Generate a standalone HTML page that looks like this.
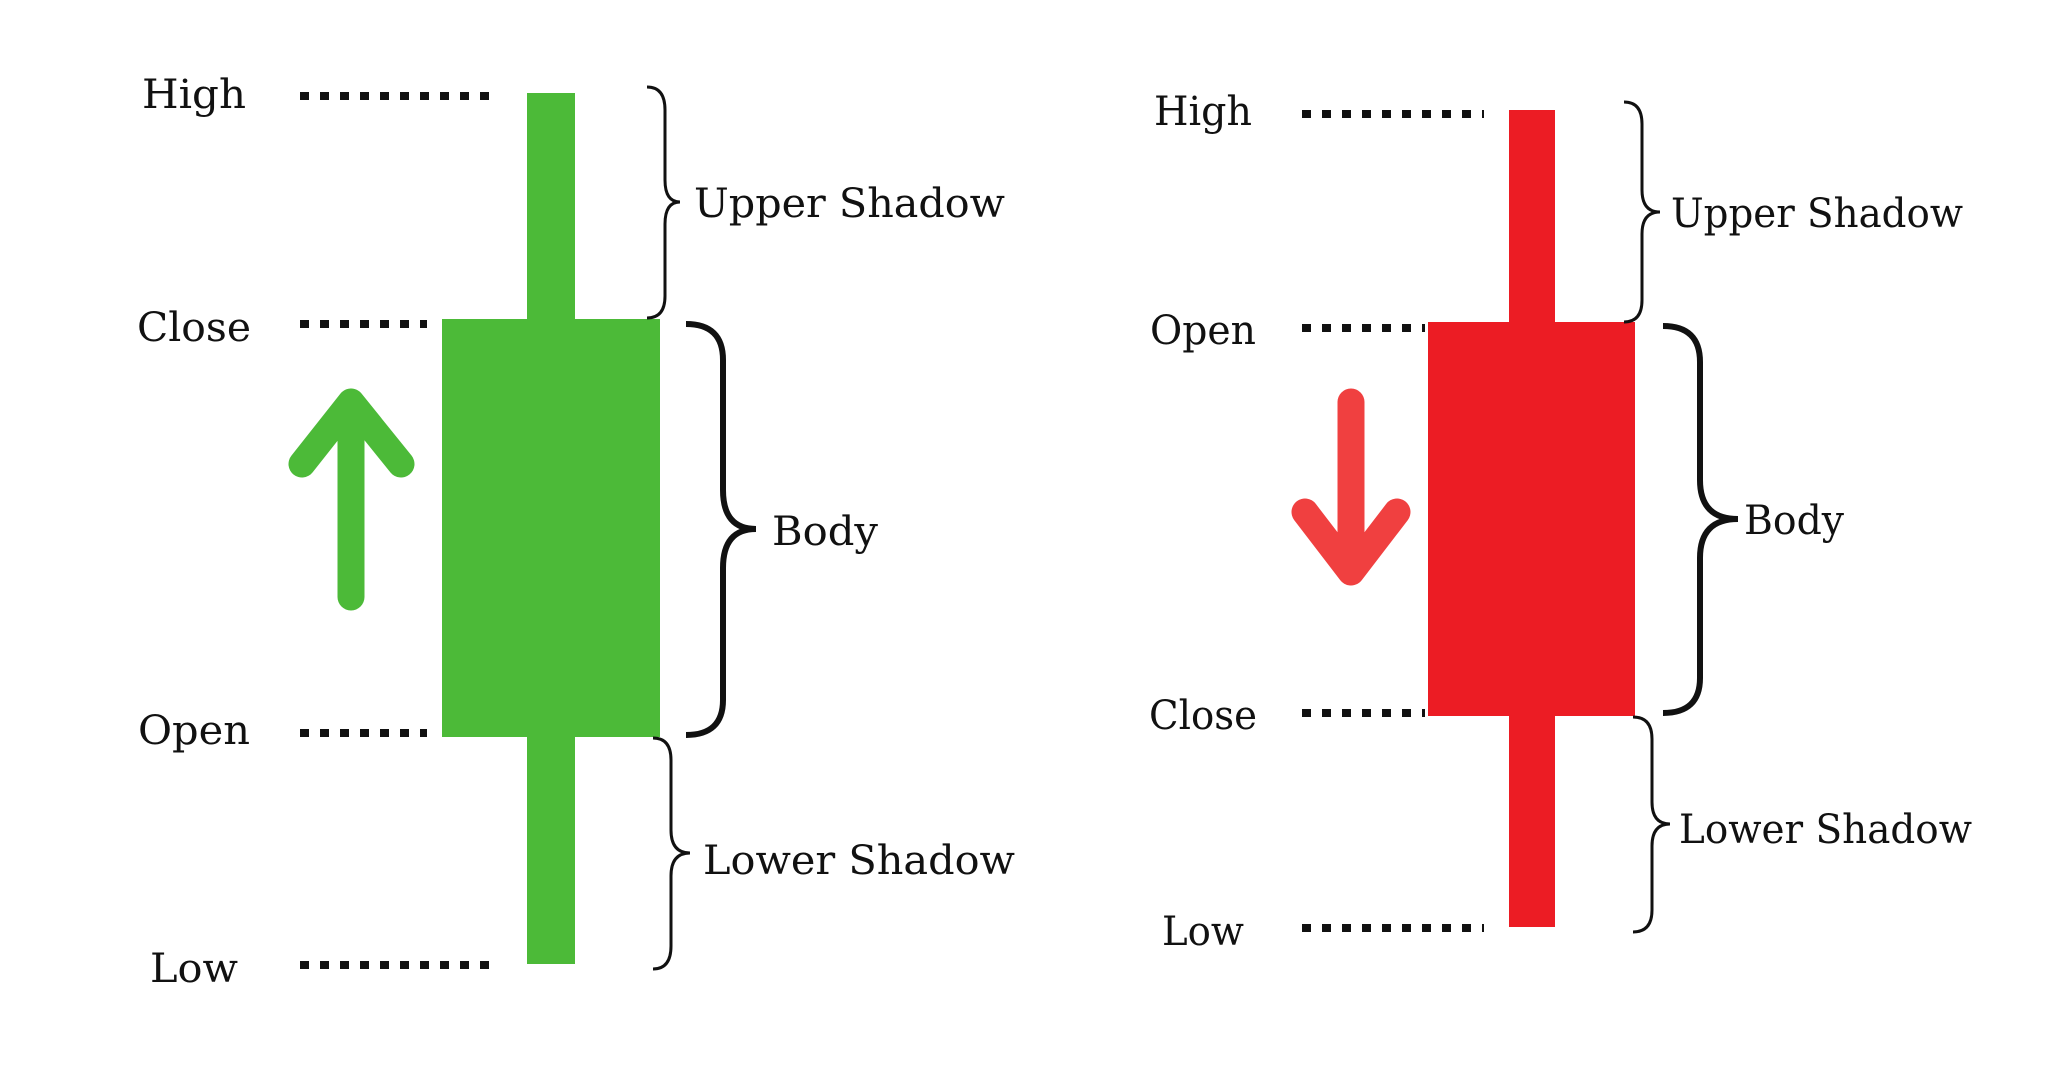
<!DOCTYPE html>
<html><head><meta charset="utf-8"><style>
html,body{margin:0;padding:0;background:#fff;}
svg{display:block;}
text{font-family:"DejaVu Serif","Liberation Serif",serif;fill:#111;font-size:40px;}
</style></head><body>
<svg width="2048" height="1082" viewBox="0 0 2048 1082" xmlns="http://www.w3.org/2000/svg">
<g transform="translate(-3,0)">
<g stroke="#111" stroke-width="8" stroke-dasharray="9 11" fill="none">
<line x1="303" y1="96" x2="496" y2="96"/>
<line x1="303" y1="324" x2="430" y2="324"/>
<line x1="303" y1="733" x2="430" y2="733"/>
<line x1="303" y1="965" x2="496" y2="965"/>
</g>
<rect x="530" y="93" width="48" height="871" fill="#4CBA38"/>
<rect x="445" y="319" width="218" height="418" fill="#4CBA38"/>
<path d="M354 597 V402 M305 464 L354 402 L404 464" stroke="#4CBA38" stroke-linecap="round" stroke-linejoin="round" fill="none" stroke-width="27"/>
<g fill="none" stroke="#111" stroke-width="3">
<path d="M650 87 Q668 87 668 110 V180 Q668 202 683 202 Q668 202 668 224 V296 Q668 318 650 318"/>
<path d="M656 738 Q674 738 674 760 V830 Q674 853 693 853 Q674 853 674 876 V946 Q674 969 656 969"/>
</g>
<path d="M689 324 Q726 324 726 360 V490 Q726 529 759 529 Q726 529 726 568 V700 Q726 735 689 735" fill="none" stroke="#111" stroke-width="6"/>
<text x="197" y="108" text-anchor="middle" textLength="104" lengthAdjust="spacingAndGlyphs">High</text>
<text x="197" y="341" text-anchor="middle" textLength="114" lengthAdjust="spacingAndGlyphs">Close</text>
<text x="197" y="744" text-anchor="middle" textLength="112" lengthAdjust="spacingAndGlyphs">Open</text>
<text x="197" y="982" text-anchor="middle" textLength="88" lengthAdjust="spacingAndGlyphs">Low</text>
<text x="697" y="217" textLength="311" lengthAdjust="spacingAndGlyphs">Upper Shadow</text>
<text x="775" y="545" textLength="106" lengthAdjust="spacingAndGlyphs">Body</text>
<text x="706" y="874" textLength="312" lengthAdjust="spacingAndGlyphs">Lower Shadow</text>
</g>
<g transform="translate(-8,0)">
<g stroke="#111" stroke-width="8" stroke-dasharray="9 11" fill="none">
<line x1="1310" y1="114" x2="1492" y2="114"/>
<line x1="1310" y1="328" x2="1433" y2="328"/>
<line x1="1310" y1="713" x2="1433" y2="713"/>
<line x1="1310" y1="928" x2="1492" y2="928"/>
</g>
<rect x="1517" y="110" width="46" height="817" fill="#EC1C24"/>
<rect x="1436" y="322" width="207" height="394" fill="#EC1C24"/>
<path d="M1359 402 V570 M1313 512 L1359 572 L1405 512" stroke="#F04040" stroke-linecap="round" stroke-linejoin="round" fill="none" stroke-width="27"/>
<g fill="none" stroke="#111" stroke-width="3">
<path d="M1632 102 Q1650 102 1650 124 V190 Q1650 212 1668 212 Q1650 212 1650 234 V300 Q1650 322 1632 322"/>
<path d="M1641 717 Q1660 717 1660 739 V802 Q1660 824 1678 824 Q1660 824 1660 846 V910 Q1660 932 1641 932"/>
</g>
<path d="M1671 326 Q1708 326 1708 362 V480 Q1708 519 1746 519 Q1708 519 1708 558 V678 Q1708 713 1671 713" fill="none" stroke="#111" stroke-width="6"/>
<text x="1211" y="125" text-anchor="middle" textLength="98" lengthAdjust="spacingAndGlyphs">High</text>
<text x="1211" y="344" text-anchor="middle" textLength="106" lengthAdjust="spacingAndGlyphs">Open</text>
<text x="1211" y="729" text-anchor="middle" textLength="108" lengthAdjust="spacingAndGlyphs">Close</text>
<text x="1211" y="945" text-anchor="middle" textLength="82" lengthAdjust="spacingAndGlyphs">Low</text>
<text x="1679" y="227" textLength="292" lengthAdjust="spacingAndGlyphs">Upper Shadow</text>
<text x="1752" y="534" textLength="100" lengthAdjust="spacingAndGlyphs">Body</text>
<text x="1687" y="843" textLength="293" lengthAdjust="spacingAndGlyphs">Lower Shadow</text>
</g>
</svg>
</body></html>
